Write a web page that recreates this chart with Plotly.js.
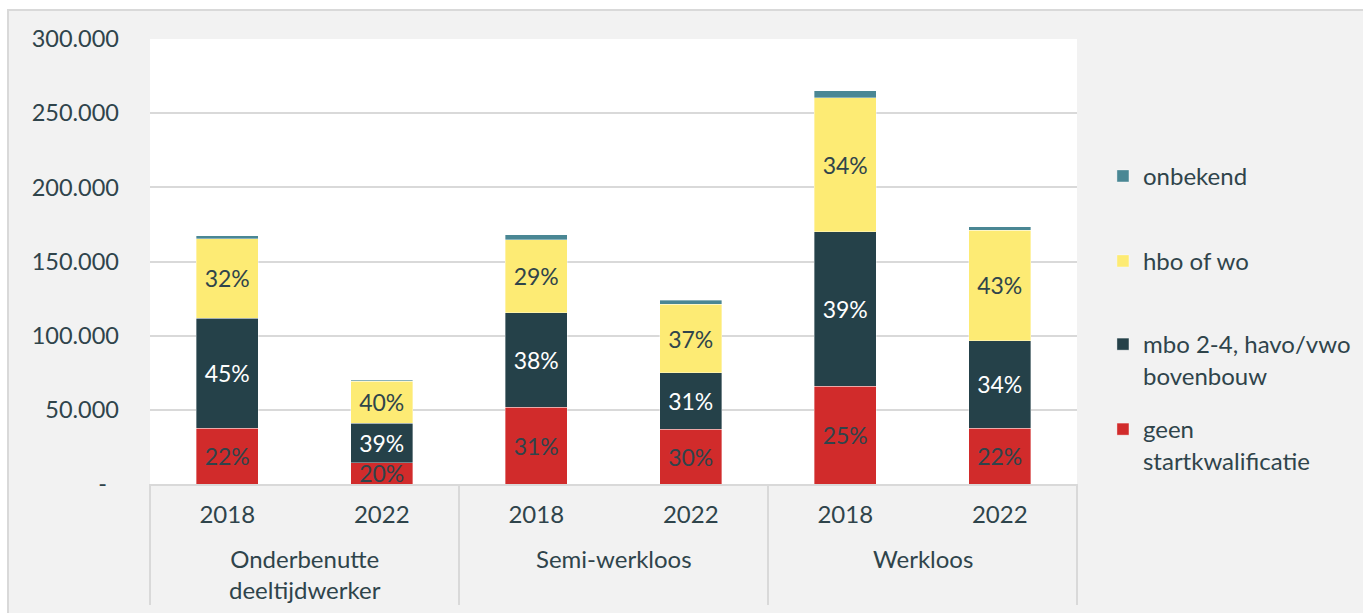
<!DOCTYPE html>
<html>
<head>
<meta charset="utf-8">
<script src="https://cdn.plot.ly/plotly-3.0.1.min.js"></script>
<style>
  html, body { margin: 0; padding: 0; background: #ffffff; overflow: hidden; }
  #frame {
    position: absolute; left: 7px; top: 9px;
    width: 1354px; height: 602px;
    border-left: 2px solid #d9d9d9; border-top: 2px solid #d9d9d9;
    background: #f2f2f2;
  }
  #chart { width: 1354px; height: 602px; }
</style>
</head>
<body>
<div id="frame"><div id="chart"></div></div>
<script>
// categories
var groupNames = ['Onderbenutte<br>deeltijdwerker', 'Semi-werkloos', 'Werkloos'];
var groupCat = ['Onderbenutte', 'Onderbenutte', 'Semi-werkloos', 'Semi-werkloos', 'Werkloos', 'Werkloos'];
var yearCat = ['2018', '2022', '2018', '2022', '2018', '2022'];

// series values (persons)
var geenStart = [37700, 14200, 51600, 36800, 65800, 37600];
var mboHavo   = [74200, 26900, 63800, 38200, 104200, 59100];
var hboWo     = [53300, 28300, 49300, 46100, 90400, 74500];
var onbekend  = [2000, 400, 3400, 2700, 4700, 2200];

// share labels as printed in the bars
var geenPct = ['22%', '20%', '31%', '30%', '25%', '22%'];
var mboPct  = ['45%', '39%', '38%', '31%', '39%', '34%'];
var hboPct  = ['32%', '40%', '29%', '37%', '34%', '43%'];

// y tick labels
var yTickVals = [0, 50000, 100000, 150000, 200000, 250000, 300000];
var yTickText = ['-\u00a0\u00a0', '50.000', '100.000', '150.000', '200.000', '250.000', '300.000'];

var xKeys = groupCat.map(function (g, i) { return g + ' ' + yearCat[i]; });

var dark = '#2f444b';
var font = 'Lato, "Open Sans", sans-serif';

function series(name, y, text, color, textColor, leg) {
    return {
        type: 'bar',
        name: name,
        x: xKeys,
        y: y,
        text: text,
        textposition: 'inside',
        insidetextanchor: 'middle',
        textangle: 0,
        constraintext: 'none',
        textfont: {family: font, size: 23, color: textColor},
        marker: {color: color, line: {color: 'rgba(255,255,255,0.45)', width: 0.8}},
        legend: leg,
        hoverinfo: 'y+name'
    };
}

var data = [
    series('geen<br>startkwalificatie', geenStart, geenPct, '#d12b2b', dark, 'legend4'),
    series('mbo 2-4, havo/vwo<br>bovenbouw', mboHavo, mboPct, '#254149', '#ffffff', 'legend3'),
    series('hbo of wo', hboWo, hboPct, '#fdeb74', dark, 'legend2'),
    series('onbekend', onbekend, null, '#4a8794', dark, 'legend')
];

function leg(y) {
    return {
        x: 1.028, y: y, xanchor: 'left', yanchor: 'top',
        valign: 'top',
        bgcolor: 'rgba(0,0,0,0)',
        font: {family: font, size: 24, color: dark}
    };
}

// group labels and dividers under the year ticks
var annotations = groupNames.map(function (g, i) {
    return {
        xref: 'paper', yref: 'paper',
        x: (2 * i + 1) / 6, y: -0.131,
        xanchor: 'center', yanchor: 'top',
        text: g, showarrow: false, align: 'center',
        font: {family: font, size: 24, color: dark}
    };
});
var shapes = [0, 1, 2, 3].map(function (k) {
    return {
        type: 'line', xref: 'paper', yref: 'paper',
        x0: k / 3, x1: k / 3, y0: 0, y1: -0.272,
        line: {color: '#d9d9d9', width: 2}
    };
});

var layout = {
    barmode: 'stack',
    bargap: 0.6,
    paper_bgcolor: '#f2f2f2',
    plot_bgcolor: '#ffffff',
    margin: {l: 141, r: 286, t: 28, b: 129, autoexpand: false},
    font: {family: font, size: 24, color: dark},
    showlegend: true,
    legend: leg(0.742),
    legend2: leg(0.551),
    legend3: leg(0.364),
    legend4: leg(0.173),
    annotations: annotations,
    shapes: shapes,
    xaxis: {
        type: 'category',
        tickvals: xKeys,
        ticktext: yearCat,
        showline: true, linecolor: '#d9d9d9', linewidth: 2,
        ticks: '', ticklabelstandoff: 8,
        tickfont: {family: font, size: 24, color: dark},
        showgrid: false
    },
    yaxis: {
        range: [0, 300000],
        tickvals: yTickVals,
        ticktext: yTickText,
        ticks: '',
        ticklabelstandoff: 30,
        showgrid: true, gridcolor: '#d9d9d9', gridwidth: 2,
        zeroline: false,
        showline: false,
        tickfont: {family: font, size: 23.5, color: dark}
    }
};

Plotly.newPlot('chart', data, layout, {displayModeBar: false, staticPlot: true});
</script>
</body>
</html>
